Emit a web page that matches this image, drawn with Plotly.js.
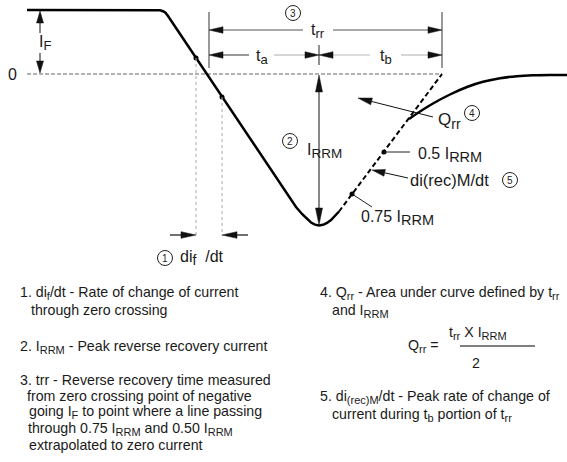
<!DOCTYPE html>
<html><head><meta charset="utf-8">
<script src="https://cdn.plot.ly/plotly-3.0.1.min.js"></script>
<style>html,body{margin:0;padding:0;background:#fff}</style>
</head><body><div id="chart" style="width:567px;height:462px"></div>
<script>
// ---- Waveform data (diagram units) ----
const currentX = [27,156,160,163,165.5,168,196,222,290,296,302,307,311,315,319,323,327,331,335,339];
const currentY = [10,10,10.3,11.2,12.8,16,58,97,199,207,214,219,222.5,224.6,225.5,224.8,223,220,216,211.5];
const extrapX = [339,442];
const extrapY = [211.5,74];
const recoveryX = [409,420,433,450,467,483,500,517,533,550,567];
const recoveryY = [119,111.5,103.5,94.5,87,81.8,78.2,76.2,75.3,75,75];
const zeroX = [27,442];
const zeroY = [74,74];
const dotX = [196,222,352,384];
const dotY = [58,97,194,152];

const F = 'Liberation Sans, Arial, sans-serif';
const shapes = [];
const ann = [];

function sb(t,s){ return `<sub><span style="font-size:${s}px">${t}</span></sub>`; }
function line(x0,y0,x1,y1,color,w,dash){
  shapes.push({type:'line',xref:'x',yref:'y',x0,y0,x1,y1,line:{color,width:w,dash:dash||'solid'}});
}
function arrow(hx,hy,tx,ty,lineColor,headColor,w,L,H){
  L = L||14; H = H||3.3; w = w||1;
  const dx=hx-tx, dy=hy-ty, len=Math.hypot(dx,dy), ux=dx/len, uy=dy/len;
  const bx=hx-ux*L, by=hy-uy*L, px=-uy*H, py=ux*H;
  line(tx,ty,bx,by,lineColor,w);
  shapes.push({type:'path',xref:'x',yref:'y',
    path:`M${hx},${hy} L${bx+px},${by+py} L${bx-px},${by-py} Z`,
    fillcolor:headColor,line:{color:headColor,width:0.5}});
}
function circ(cx,cy,n){
  const r=7.5;
  shapes.push({type:'circle',xref:'x',yref:'y',x0:cx-r,y0:cy-r,x1:cx+r,y1:cy+r,line:{color:'#222',width:1}});
  ann.push({x:cx,y:cy,xref:'x',yref:'y',text:String(n),showarrow:false,font:{family:F,size:10,color:'#222'},xanchor:'center',yanchor:'middle'});
}
function txt(x,y,text,size,anchor){
  ann.push({x,y,xref:'x',yref:'y',text,showarrow:false,font:{family:F,size:size||13,color:'#1a1a1a'},xanchor:anchor||'center',yanchor:'middle'});
}

// guide lines
line(196,58,196,236,'#aaa',1,'dot');
line(222,97,222,236,'#aaa',1,'dot');
line(209,12,209,68,'#777',1.5);
line(442,12,442,68,'#777',1.5);
line(319,45,319,65,'#222',1);
line(384,152,410,152,'#222',1);
line(352,194,372,207,'#222',1);
line(460,346,535,346,'#555',1.5);

// arrows
arrow(209,30,303,30,'#555','#111',1.2);
arrow(442,30,333,30,'#555','#111',1.2);
arrow(209,55,249,55,'#555','#111',1.2);
arrow(319,55,274,55,'#bbb','#111',1.2);
arrow(319,55,370,55,'#bbb','#111',1.2);
arrow(442,55,401,55,'#bbb','#111',1.2);
arrow(319,75,319,145,'#111','#111',1,17,3.5);
arrow(319,225,319,145,'#111','#111',1,17,3.5);
arrow(40,11,40,33,'#111','#111',1,12,3.5);
arrow(40,73,40,53,'#111','#111',1,12,3.5);
arrow(196,235,170,235,'#111','#111',1.2,15,3.3);
arrow(222,235,248,235,'#111','#111',1.2,15,3.3);
arrow(358,98,433,117,'#111','#111',1,14,3.5);
arrow(372,170,408,178,'#111','#111',1,13,3.5);

// circled numbers
circ(293,13,3); circ(290,141,2); circ(472,113,4); circ(510,180,5); circ(165,258,1);

// diagram labels
txt(12,74,'0',16);
txt(45,43,'I'+sb('F',13),16);
txt(318,31,'t'+sb('rr',13),16);
txt(262,57,'t'+sb('a',13),16);
txt(386,57,'t'+sb('b',13),16);
txt(305,151,'I'+sb('RRM',13.5),16,'left');
txt(436,121,'Q'+sb('rr',14),17,'left');
txt(416,155,'0.5 I'+sb('RRM',14.5),16,'left');
txt(408,180,'di(rec)M/dt',16.5,'left');
txt(359,218,'0.75 I'+sb('RRM',14.5),16,'left');
txt(178,258,'di'+sb('f',14)+'&nbsp;&nbsp;/dt',16,'left');

// notes
const NS = 14.2, SS = 11;
txt(18,293,'1. di'+sb('f',SS)+'/dt - Rate of change of current',NS,'left');
txt(29,310,'through zero crossing',NS,'left');
txt(18,347,'2. I'+sb('RRM',SS)+' - Peak reverse recovery current',NS,'left');
txt(18,380,'3. trr - Reverse recovery time measured',NS,'left');
txt(25,396,'from zero crossing point of negative',NS,'left');
txt(27,412,'going I'+sb('F',SS)+' to point where a line passing',NS,'left');
txt(26,428.5,'through 0.75 I'+sb('RRM',SS)+' and 0.50 I'+sb('RRM',SS),NS,'left');
txt(27,445,'extrapolated to zero current',NS,'left');
txt(318,293,'4. Q'+sb('rr',SS)+' - Area under curve defined by t'+sb('rr',SS),NS,'left');
txt(330,311,'and I'+sb('RRM',SS),NS,'left');
txt(406,346,'Q'+sb('rr',SS)+' =',NS,'left');
txt(447,333,'t'+sb('rr',SS)+' X I'+sb('RRM',SS),NS,'left');
txt(476,363,'2',NS);
txt(318,397,'5. di'+sb('(rec)M',SS)+'/dt - Peak rate of change of',NS,'left');
txt(330,415,'current during t'+sb('b',SS)+' portion of t'+sb('rr',SS),NS,'left');

const traces = [
  {x:zeroX,y:zeroY,mode:'lines',line:{color:'#999',width:1.3,dash:'4px,2px'},hoverinfo:'skip'},
  {x:currentX,y:currentY,mode:'lines',line:{color:'#000',width:2.5},hoverinfo:'skip'},
  {x:extrapX,y:extrapY,mode:'lines',line:{color:'#000',width:2,dash:'5px,3px'},hoverinfo:'skip'},
  {x:recoveryX,y:recoveryY,mode:'lines',line:{color:'#000',width:2.5,shape:'spline',smoothing:0.8},hoverinfo:'skip'},
  {x:dotX,y:dotY,mode:'markers',marker:{color:'#000',size:5},hoverinfo:'skip'}
];

const layout = {
  width:567,height:462,margin:{l:0,r:0,t:0,b:0},
  paper_bgcolor:'#fff',plot_bgcolor:'#fff',showlegend:false,
  xaxis:{range:[0,567],visible:false,fixedrange:true},
  yaxis:{range:[462,0],visible:false,fixedrange:true},
  shapes,annotations:ann
};
Plotly.newPlot('chart',traces,layout,{staticPlot:true,displayModeBar:false});
</script></body></html>
